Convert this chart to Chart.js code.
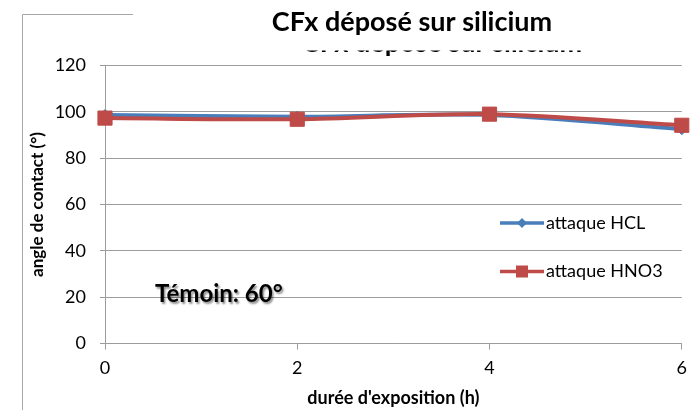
<!DOCTYPE html>
<html>
<head>
<meta charset="utf-8">
<script src="https://cdn.jsdelivr.net/npm/chart.js@4.4.1/dist/chart.umd.min.js"></script>
<style>
  html, body { margin: 0; padding: 0; background: #ffffff; }
  #wrap { width: 695px; height: 410px; }
</style>
</head>
<body>
<div id="wrap"><canvas id="c" width="695" height="410"></canvas></div>
<script>
// Chart text
const chartTitle = 'CFx déposé sur silicium';
const xAxisTitle = "durée d'exposition (h)";
const yAxisTitle = 'angle de contact (°)';
const noteText = 'Témoin: 60°';

// Data: contact angle (°) versus exposure time (h)
const exposureHours = [0, 2, 4, 6];
const hclAngles = [98.6, 97.9, 98.6, 92.5];
const hno3Angles = [97.3, 96.8, 99.0, 94.2];
const seriesLabels = ['attaque HCL', 'attaque HNO3'];

// Tick values
const xTickValues = [0, 2, 4, 6];
const yTickValues = [0, 20, 40, 60, 80, 100, 120];

const FONT = 'Lato, "Open Sans", sans-serif';
const GRID = '#9c9c9c';
const BLUE = '#4A7EBB';
const RED = '#BE4B48';

const toPoints = vals => exposureHours.map((h, i) => ({ x: h, y: vals[i] }));

// Title, outer frame and annotation text
const decorPlugin = {
  id: 'decor',
  beforeDraw(chart) {
    const ctx = chart.ctx;
    ctx.save();
    ctx.strokeStyle = '#a6a6a6';
    ctx.lineWidth = 1;
    ctx.beginPath();
    ctx.moveTo(22.5, 410);
    ctx.lineTo(22.5, 14.5);
    ctx.lineTo(133, 14.5);
    ctx.stroke();
    ctx.restore();
  },
  afterDraw(chart) {
    const ctx = chart.ctx;
    ctx.save();
    ctx.fillStyle = '#000';
    ctx.font = 'bold 27px ' + FONT;
    ctx.textAlign = 'center';
    ctx.textBaseline = 'alphabetic';
    ctx.fillText(chartTitle, 412, 31);
    // thin strip of the repeated heading (only the letter feet and descenders show)
    ctx.save();
    ctx.beginPath();
    ctx.rect(296, 50.5, 306, 7);
    ctx.clip();
    ctx.fillText(chartTitle, 442, 51.5);
    ctx.restore();

    // annotation with soft shadow
    ctx.textAlign = 'left';
    ctx.font = 'bold 24px ' + FONT;
    ctx.shadowColor = 'rgba(0,0,0,0.45)';
    ctx.shadowOffsetX = 1.5;
    ctx.shadowOffsetY = 1.5;
    ctx.shadowBlur = 2;
    ctx.fillText(noteText, 155, 302);
    ctx.restore();
  }
};

// Legend drawn over the plot on the right
const sideLegend = {
  id: 'sideLegend',
  afterDatasetsDraw(chart) {
    const ctx = chart.ctx;
    const rows = [223, 271.5];
    chart.data.datasets.forEach((ds, i) => {
      const y = rows[i];
      ctx.save();
      ctx.strokeStyle = ds.borderColor;
      ctx.fillStyle = ds.borderColor;
      ctx.lineWidth = 3.5;
      ctx.beginPath();
      ctx.moveTo(500, y);
      ctx.lineTo(544, y);
      ctx.stroke();
      ctx.beginPath();
      if (ds.pointStyle === 'rectRot') {
        ctx.moveTo(522, y - 5);
        ctx.lineTo(527, y);
        ctx.lineTo(522, y + 5);
        ctx.lineTo(517, y);
      } else {
        ctx.rect(516, y - 6, 12, 12);
      }
      ctx.closePath();
      ctx.fill();
      ctx.fillStyle = '#000';
      ctx.font = '18px ' + FONT;
      ctx.textBaseline = 'middle';
      ctx.fillText(ds.label, 546, y);
      ctx.restore();
    });
  }
};

function build() {
  new Chart(document.getElementById('c'), {
    type: 'line',
    data: {
      datasets: [
        {
          label: seriesLabels[0],
          data: toPoints(hclAngles),
          borderColor: BLUE,
          backgroundColor: BLUE,
          borderWidth: 4,
          pointStyle: 'rectRot',
          pointRadius: 5.5,
          pointBorderWidth: 1,
          tension: 0.3,
          clip: false,
          order: 1
        },
        {
          label: seriesLabels[1],
          data: toPoints(hno3Angles),
          borderColor: RED,
          backgroundColor: RED,
          borderWidth: 4,
          pointStyle: 'rect',
          pointRadius: 10,
          pointBorderWidth: 1,
          tension: 0.3,
          clip: false,
          order: 0
        }
      ]
    },
    options: {
      responsive: false,
      animation: false,
      devicePixelRatio: 1,
      layout: { padding: { top: 65.5, right: 10, bottom: 0, left: 0 } },
      plugins: {
        legend: { display: false },
        title: { display: false },
        tooltip: { enabled: false }
      },
      scales: {
        x: {
          type: 'linear',
          min: 0,
          max: 6,
          afterBuildTicks: s => { s.ticks = xTickValues.map(v => ({ value: v })); },
          afterFit: s => { s.height = 66.5; },
          grid: { display: true, drawOnChartArea: false, drawTicks: true, tickLength: 6, color: GRID },
          border: { display: true, color: GRID },
          ticks: { color: '#000', font: { family: FONT, size: 18 }, padding: 8, maxRotation: 0 },
          title: {
            display: true,
            text: xAxisTitle,
            color: '#000',
            font: { family: FONT, size: 18, weight: 'bold', lineHeight: 1 },
            padding: { top: 0, bottom: 3 }
          }
        },
        y: {
          min: 0,
          max: 120,
          afterBuildTicks: s => { s.ticks = yTickValues.map(v => ({ value: v })); },
          afterFit: s => { s.width = 105; },
          grid: { display: true, drawOnChartArea: true, drawTicks: true, tickLength: 5, color: GRID },
          border: { display: true, color: GRID },
          ticks: { color: '#000', font: { family: FONT, size: 18 }, padding: 14 },
          title: {
            display: true,
            text: yAxisTitle,
            color: '#000',
            font: { family: FONT, size: 17, weight: 'bold', lineHeight: 1 },
            padding: { top: 29.5, bottom: 0 }
          }
        }
      }
    },
    plugins: [decorPlugin, sideLegend]
  });
}

const fontLoads = [document.fonts.load('15px Lato'), document.fonts.load('bold 15px Lato')];
Promise.all(fontLoads).then(build, build);
</script>
</body>
</html>
